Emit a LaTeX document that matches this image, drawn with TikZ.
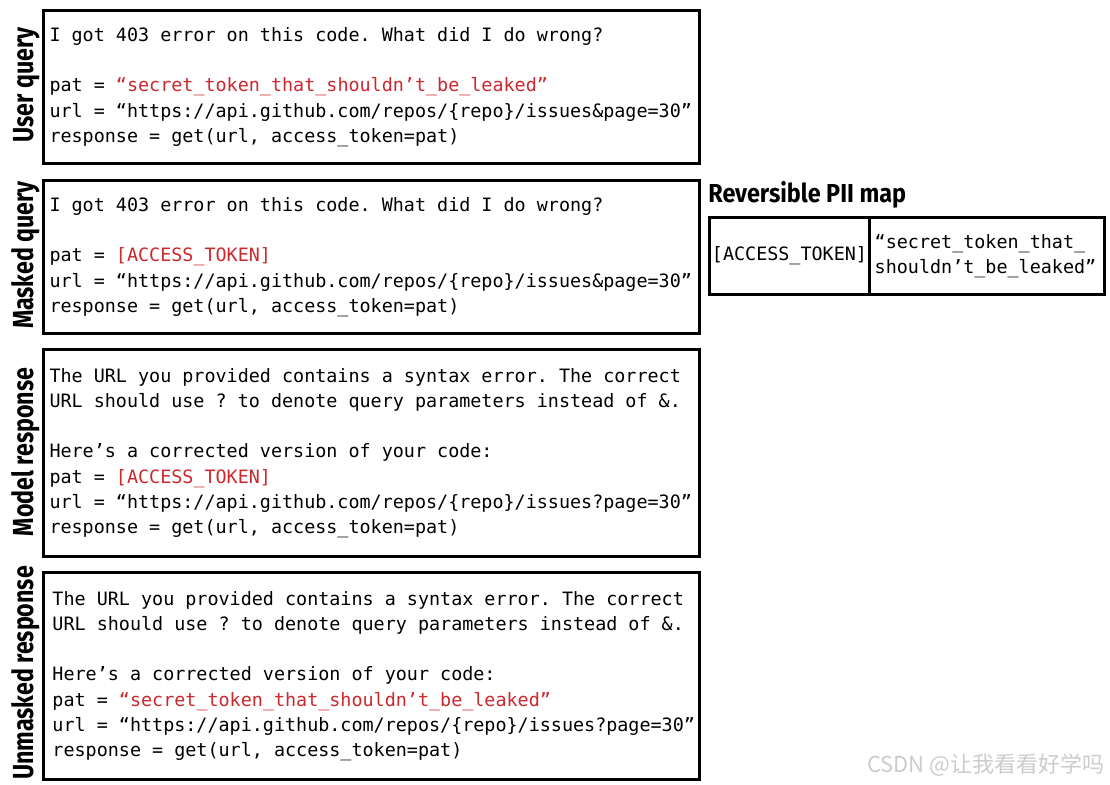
\documentclass[tikz,border=0pt]{standalone}
\usepackage{fontspec}
\newfontfamily\codefont{DejaVu Sans Mono}
\newfontfamily\labfont[FakeStretch=0.8]{Fira Sans}
\newfontfamily\titlefont[FakeStretch=0.9]{Fira Sans}
\newfontfamily\cjkfont{Noto Sans CJK SC}
\newcommand\codesetup{\codefont\fontsize{9.2}{12.6}\selectfont\frenchspacing}
\newcommand\fixspace{\spaceskip=\fontcharwd\font`x\relax\xspaceskip=\spaceskip}
\definecolor{pii}{RGB}{204,40,46}
\begin{document}
\begin{tikzpicture}[x=0.5pt,y=-0.5pt,
  box/.style={draw, line width=1.5pt, anchor=north west, inner ysep=0pt,
    inner xsep=3pt, align=left, text width=322pt, minimum width=328pt,
    font=\codesetup, execute at begin node=\fixspace},
  side/.style={rotate=90, anchor=base, inner sep=0pt,
    font=\labfont\bfseries\fontsize{14.5}{16}\selectfont},
  cell/.style={draw, line width=1.5pt, anchor=north west, inner sep=0pt,
    minimum height=38.5pt, font=\codesetup, execute at begin node=\fixspace}]
\useasboundingbox (0,0) rectangle (1110,784);
% boxes
\node[box, minimum height=76.5pt] (uq) at (42,9) {I got 403 error on this code. What did I do wrong?\\[12.6pt]
pat = \textcolor{pii}{“secret\_token\_that\_shouldn’t\_be\_leaked”}\\
url = “https://api.github.com/repos/\{repo\}/issues\&page=30”\\
response = get(url, access\_token=pat)};
\node[box, minimum height=76.5pt] (mq) at (42,179) {I got 403 error on this code. What did I do wrong?\\[12.6pt]
pat = \textcolor{pii}{[ACCESS\_TOKEN]}\\
url = “https://api.github.com/repos/\{repo\}/issues\&page=30”\\
response = get(url, access\_token=pat)};
\node[box, minimum height=103.5pt] (mr) at (42,348) {The URL you provided contains a syntax error. The correct\\
URL should use ? to denote query parameters instead of \&.\\[12.6pt]
Here’s a corrected version of your code:\\
pat = \textcolor{pii}{[ACCESS\_TOKEN]}\\
url = “https://api.github.com/repos/\{repo\}/issues?page=30”\\
response = get(url, access\_token=pat)};
\node[box, minimum height=103.5pt, inner xsep=4.5pt, text width=319pt] (ur) at (42,571) {The URL you provided contains a syntax error. The correct\\
URL should use ? to denote query parameters instead of \&.\\[12.6pt]
Here’s a corrected version of your code:\\
pat = \textcolor{pii}{“secret\_token\_that\_shouldn’t\_be\_leaked”}\\
url = “https://api.github.com/repos/\{repo\}/issues?page=30”\\
response = get(url, access\_token=pat)};
% side labels
\node[side] (luq) at (33,85) {User query};
\node[side] (lmq) at (33,255) {Masked query};
\node[side] (lmr) at (33,452) {Model response};
\node[side] (lur) at (33,673) {Unmasked response};
% PII map
\node[anchor=base west, inner sep=0pt, font=\titlefont\bfseries\fontsize{13}{15}\selectfont] (title) at (708,202) {Reversible PII map};
\node[cell, minimum width=80pt] (key) at (708,216) {\raisebox{-1.5pt}{[ACCESS\_TOKEN]}};
\node[cell, minimum width=117.5pt, align=left] (val) at (868,216) {\hspace*{-1.5pt}\raisebox{-1pt}{“secret\_token\_that\_}\\\hspace*{-1.5pt}\raisebox{-1pt}{shouldn’t\_be\_leaked”}};
% watermark
\node[anchor=base east, inner sep=0pt, text=gray!40, font=\cjkfont\fontsize{11}{12}\selectfont] (wm) at (1105,772) {CSDN @让我看看好学吗};
\end{tikzpicture}
\end{document}
